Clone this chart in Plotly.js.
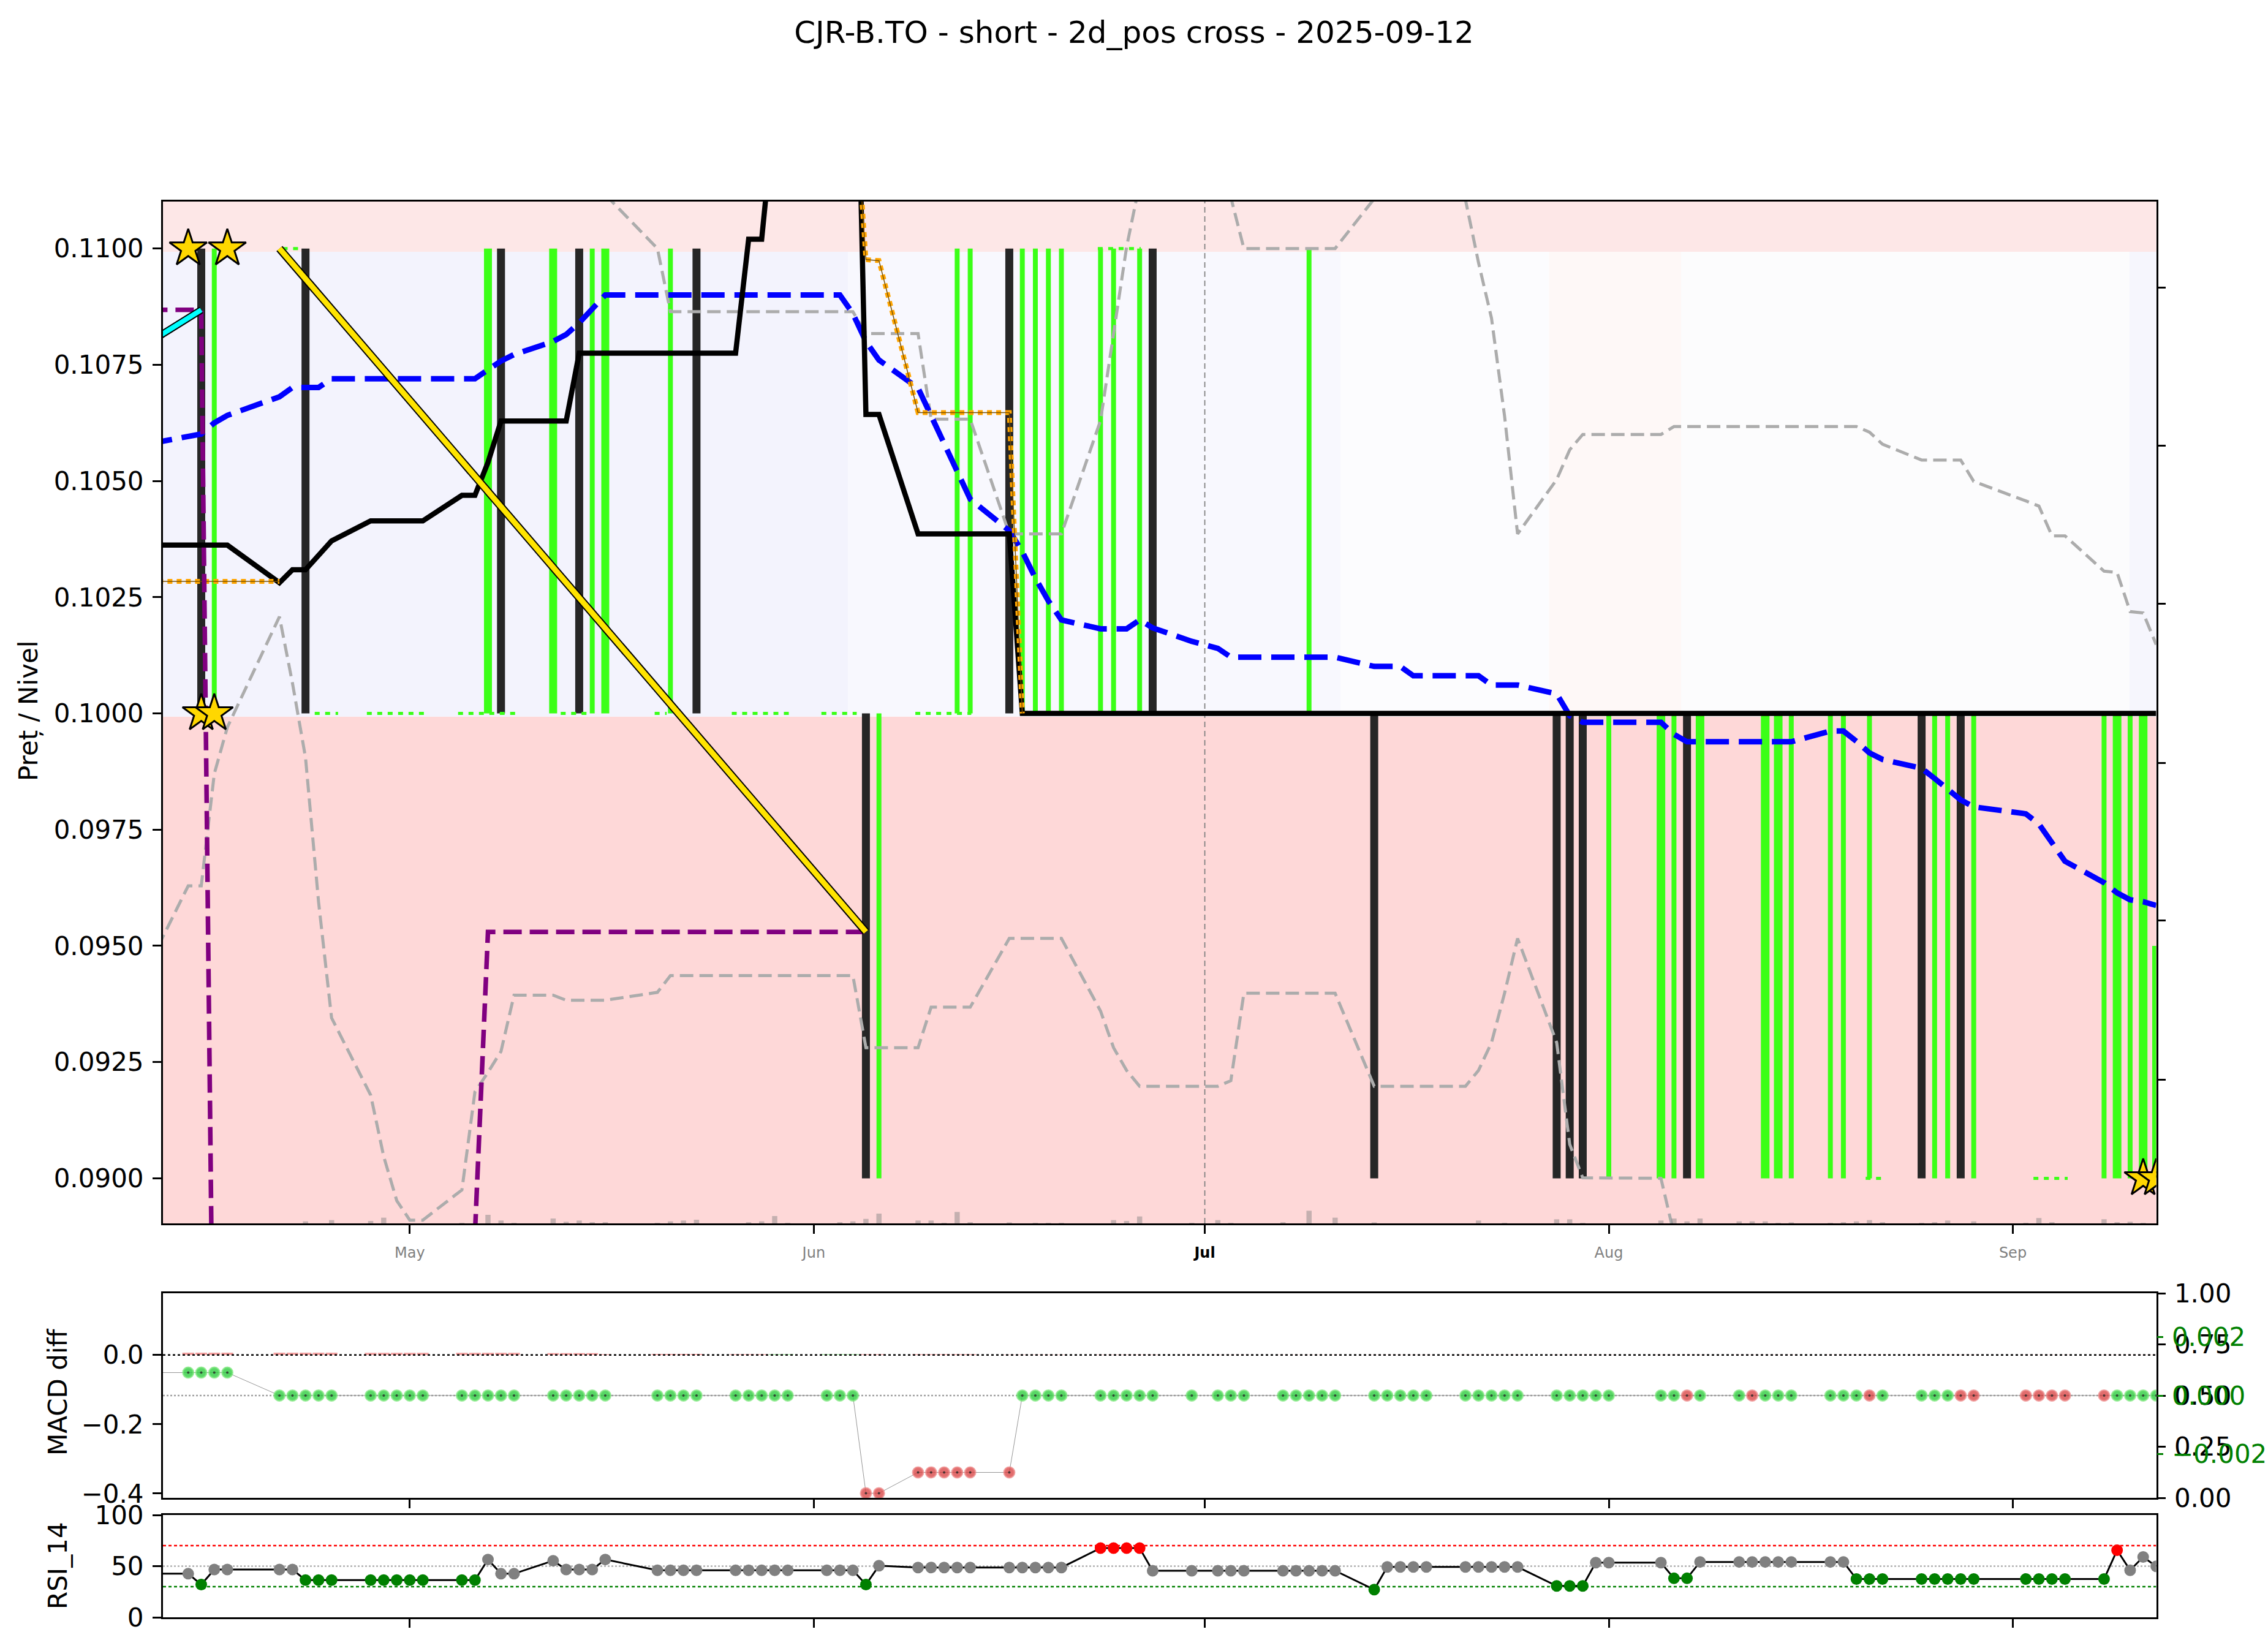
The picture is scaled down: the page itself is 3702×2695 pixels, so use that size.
<!DOCTYPE html>
<html>
<head>
<meta charset="utf-8">
<script src="https://cdn.plot.ly/plotly-3.0.1.min.js"></script>
<style>html,body{margin:0;padding:0;background:#fff;}</style>
</head>
<body>
<div id="chart" style="width:3702px;height:2695px;"></div>
<script>
// ---------------- DATA ----------------
const chartTitle = 'CJR-B.TO - short - 2d_pos cross - 2025-09-12';
const monthTicks = ['2025-05-01','2025-06-01','2025-07-01','2025-08-01','2025-09-01'];
const monthLabels = ['May','Jun','<span style="color:#000"><b>Jul</b></span>','Aug','Sep'];

const tradingDays = [
 '2025-04-14','2025-04-15','2025-04-16','2025-04-17',
 '2025-04-21','2025-04-22','2025-04-23','2025-04-24','2025-04-25',
 '2025-04-28','2025-04-29','2025-04-30','2025-05-01','2025-05-02',
 '2025-05-05','2025-05-06','2025-05-07','2025-05-08','2025-05-09',
 '2025-05-12','2025-05-13','2025-05-14','2025-05-15','2025-05-16',
 '2025-05-20','2025-05-21','2025-05-22','2025-05-23',
 '2025-05-26','2025-05-27','2025-05-28','2025-05-29','2025-05-30',
 '2025-06-02','2025-06-03','2025-06-04','2025-06-05','2025-06-06',
 '2025-06-09','2025-06-10','2025-06-11','2025-06-12','2025-06-13',
 '2025-06-16','2025-06-17','2025-06-18','2025-06-19','2025-06-20',
 '2025-06-23','2025-06-24','2025-06-25','2025-06-26','2025-06-27',
 '2025-06-30','2025-07-02','2025-07-03','2025-07-04',
 '2025-07-07','2025-07-08','2025-07-09','2025-07-10','2025-07-11',
 '2025-07-14','2025-07-15','2025-07-16','2025-07-17','2025-07-18',
 '2025-07-21','2025-07-22','2025-07-23','2025-07-24','2025-07-25',
 '2025-07-28','2025-07-29','2025-07-30','2025-07-31','2025-08-01',
 '2025-08-05','2025-08-06','2025-08-07','2025-08-08',
 '2025-08-11','2025-08-12','2025-08-13','2025-08-14','2025-08-15',
 '2025-08-18','2025-08-19','2025-08-20','2025-08-21','2025-08-22',
 '2025-08-25','2025-08-26','2025-08-27','2025-08-28','2025-08-29',
 '2025-09-02','2025-09-03','2025-09-04','2025-09-05',
 '2025-09-08','2025-09-09','2025-09-10','2025-09-11','2025-09-12'];

// volume (thousand shares) per trading day
const volumeK = [
 0,0,0,0, 0,0,10,0,16, 12,28,0,0,0, 3,0,42,14,3, 24,8,14,6,6, 3,10,14,18, 0,6,10,36,3,
 0,6,10,22,48, 14,14,3,56,6, 5,0,3,3,3, 0,16,12,34,0, 3,16,3,0, 6,0,62,0,28,
 5,0,0,0,0, 0,14,0,3,0, 20,20,3,0,0, 14,24,10,24, 10,10,10,3,5, 3,6,10,16,6,
 3,6,14,0,10, 3,26,6,0, 20,6,8,3,0];

// RSI 14 per trading day
const rsi14 = [
 42.6,32.0,46.7,46.7, 46.7,46.7,36.4,36.4,36.4, 36.4,36.4,36.4,36.4,36.4,
 36.4,36.4,56.5,42.6,42.6, 55.3,46.7,46.7,46.7,56.5, 46.0,46.0,46.0,46.0,
 46.0,46.0,46.0,46.0,46.0, 46.0,46.0,46.0,32.0,50.4, 48.7,48.7,48.7,48.7,48.7,
 48.7,48.7,48.7,48.7,48.7, 67.6,67.6,67.6,67.6,45.5, 45.5,45.5,45.5,45.5,
 45.5,45.5,45.5,45.5,45.5, 27.1,49.2,49.2,49.2,49.2, 49.2,49.2,49.2,49.2,49.2,
 30.7,30.7,30.7,53.4,53.4, 53.4,38.1,38.1,54.1, 54.1,54.1,54.1,54.1,54.1,
 54.1,54.1,37.4,37.4,37.4, 37.4,37.4,37.4,37.4,37.4, 37.4,37.4,37.4,37.4,
 37.4,65.6,46.0,59.0,49.9];
const rsiStartVal = 42.6; // value at left edge (2025-04-11)

// MACD diff per trading day
const macdDiff = [
 -0.051,-0.051,-0.051,-0.051, -0.117,-0.117,-0.117,-0.117,-0.117,
 -0.117,-0.117,-0.117,-0.117,-0.117, -0.117,-0.117,-0.117,-0.117,-0.117,
 -0.117,-0.117,-0.117,-0.117,-0.117, -0.117,-0.117,-0.117,-0.117,
 -0.117,-0.117,-0.117,-0.117,-0.117, -0.117,-0.117,-0.117,-0.399,-0.399,
 -0.339,-0.339,-0.339,-0.339,-0.339, -0.339,-0.117,-0.117,-0.117,-0.117,
 -0.117,-0.117,-0.117,-0.117,-0.117, -0.117,-0.117,-0.117,-0.117,
 -0.117,-0.117,-0.117,-0.117,-0.117, -0.117,-0.117,-0.117,-0.117,-0.117,
 -0.117,-0.117,-0.117,-0.117,-0.117, -0.117,-0.117,-0.117,-0.117,-0.117,
 -0.117,-0.117,-0.117,-0.117, -0.117,-0.117,-0.117,-0.117,-0.117,
 -0.117,-0.117,-0.117,-0.117,-0.117, -0.117,-0.117,-0.117,-0.117,-0.117,
 -0.117,-0.117,-0.117,-0.117, -0.117,-0.117,-0.117,-0.117,-0.117];
const macdSide = [
 'g','g','g','g', 'g','g','g','g','g', 'g','g','g','g','g', 'g','g','g','g','g',
 'g','g','g','g','g', 'g','g','g','g', 'g','g','g','g','g', 'g','g','g','r','r',
 'r','r','r','r','r', 'r','g','g','g','g', 'g','g','g','g','g', 'g','g','g','g',
 'g','g','g','g','g', 'g','g','g','g','g', 'g','g','g','g','g', 'g','g','g','g','g',
 'g','g','r','g', 'g','r','g','g','g', 'g','g','g','r','g', 'g','g','g','r','r',
 'r','r','r','r', 'r','g','g','g','g'];
const macdStartVal = -0.051;
const macdRef = -0.117;
const macdHist = [
 0.0065,0.0065,0.0065,0.0065, 0.0065,0.0065,0.0065,0.0065,0.0065,
 0.006,0.006,0.006,0.006,0.006, 0.006,0.006,0.006,0.006,0.006,
 0.005,0.005,0.005,0.005,0.002, 0.003,0.003,0.003,0.003,
 0.002,0.002,0.002,0.002,0.002, 0.002,0.002,0.002,0.002,0.002,
 0.002,0.002,0.002,0.002,0.002, 0.001,0.001,0.001,0.001,0.001,
 0.001,0.001,0.001,0.001,0.001, 0.0005,0.0005,0.0005,0.0005,
 0.0005,0.0005,0.0005,0.0005,0.0005, 0.0005,0.0005,0.0005,0.0005,0.0005,
 0.0005,0.0005,0.0005,0.0005,0.0005, 0.0005,0.0005,0.0005,0.0005,0.0005,
 0.0005,0.0005,0.0005,0.0005, 0.0005,0.0005,0.0005,0.0005,0.0005,
 0.0005,0.0005,0.0005,0.0005,0.0005, 0.0005,0.0005,0.0005,0.0005,0.0005,
 0.0005,0.0005,0.0005,0.0005, 0.0005,0.0005,0.0005,0.0005,0.0005];
const histSide = [
 'p','p','p','p', 'p','p','p','p','p', 'p','p','p','p','p', 'p','p','p','p','p',
 'p','p','p','p','p', 'p','p','p','p', 'p','p','p','g','g', 'g','g','g','p','p',
 'p','p','p','p','p', 'p','p','p','p','p', 'p','p','p','p','p', 'p','p','p','p',
 'p','p','p','p','p', 'p','p','p','p','p', 'p','p','p','p','p', 'p','p','p','p','p',
 'p','p','p','p', 'p','p','p','p','p', 'p','p','p','p','p', 'p','p','p','p','p',
 'p','p','p','p', 'p','p','p','p','p'];

// Price-panel lines (vertices)
const blueDates = ['2025-04-11','2025-04-14','2025-04-15','2025-04-16','2025-04-17','2025-04-21','2025-04-22','2025-04-24','2025-04-25','2025-05-06','2025-05-07','2025-05-08','2025-05-09','2025-05-12','2025-05-13','2025-05-14','2025-05-15','2025-05-16','2025-06-03','2025-06-04','2025-06-05','2025-06-06','2025-06-09','2025-06-13','2025-06-16','2025-06-17','2025-06-18','2025-06-19','2025-06-20','2025-06-23','2025-06-25','2025-06-26','2025-06-27','2025-06-30','2025-07-02','2025-07-03','2025-07-11','2025-07-14','2025-07-16','2025-07-17','2025-07-22','2025-07-23','2025-07-25','2025-07-28','2025-07-29','2025-07-30','2025-08-05','2025-08-06','2025-08-07','2025-08-15','2025-08-18','2025-08-19','2025-08-20','2025-08-21','2025-08-22','2025-08-25','2025-08-26','2025-08-27','2025-08-28','2025-08-29','2025-09-02','2025-09-03','2025-09-04','2025-09-05','2025-09-08','2025-09-09','2025-09-10','2025-09-11','2025-09-12'];
const blueVals = [0.10580,0.10596,0.10601,0.10625,0.10641,0.10681,0.10701,0.10701,0.10720,0.10720,0.10740,0.10758,0.10772,0.10800,0.10815,0.10840,0.10870,0.10900,0.10900,0.10860,0.10800,0.10760,0.10700,0.10461,0.10393,0.10348,0.10291,0.10242,0.10201,0.10182,0.10182,0.10201,0.10184,0.10155,0.10140,0.10121,0.10121,0.10101,0.10101,0.10081,0.10081,0.10061,0.10061,0.10042,0.09995,0.09981,0.09981,0.09955,0.09939,0.09939,0.09962,0.09962,0.09940,0.09915,0.09901,0.09882,0.09860,0.09837,0.09814,0.09799,0.09784,0.09762,0.09720,0.09682,0.09636,0.09614,0.09599,0.09595,0.09587];

const blackDates = ['2025-04-11','2025-04-17','2025-04-21','2025-04-22','2025-04-23','2025-04-24','2025-04-25','2025-04-28','2025-05-02','2025-05-05','2025-05-06','2025-05-07','2025-05-08','2025-05-13','2025-05-14','2025-05-26','2025-05-27','2025-05-28','2025-05-29','2025-05-30','2025-06-02','2025-06-03','2025-06-04','2025-06-05','2025-06-06','2025-06-09','2025-06-16','2025-06-17','2025-09-12'];
const blackVals = [0.10362,0.10362,0.10281,0.10309,0.10309,0.10340,0.10371,0.10414,0.10414,0.10469,0.10469,0.10540,0.10629,0.10629,0.10775,0.10775,0.11020,0.11020,0.11300,0.11500,0.11700,0.11800,0.11880,0.10643,0.10643,0.10386,0.10386,0.10000,0.10000];

const lowBandDates = ['2025-04-11','2025-04-14','2025-04-15','2025-04-16','2025-04-17','2025-04-21','2025-04-22','2025-04-23','2025-04-24','2025-04-25','2025-04-28','2025-04-29','2025-04-30','2025-05-01','2025-05-02','2025-05-05','2025-05-06','2025-05-07','2025-05-08','2025-05-09','2025-05-12','2025-05-13','2025-05-16','2025-05-20','2025-05-21','2025-06-04','2025-06-05','2025-06-09','2025-06-10','2025-06-13','2025-06-16','2025-06-20','2025-06-23','2025-06-24','2025-06-25','2025-06-26','2025-07-02','2025-07-03','2025-07-04','2025-07-11','2025-07-14','2025-07-21','2025-07-22','2025-07-23','2025-07-24','2025-07-25','2025-07-28','2025-07-29','2025-07-30','2025-08-05','2025-08-06'];
const lowBandVals = [0.09460,0.09629,0.09629,0.09870,0.09970,0.10208,0.10065,0.09905,0.09595,0.09345,0.09179,0.09047,0.08952,0.08910,0.08910,0.08975,0.09186,0.09228,0.09273,0.09394,0.09394,0.09383,0.09383,0.09400,0.09436,0.09436,0.09281,0.09281,0.09368,0.09368,0.09516,0.09516,0.09360,0.09281,0.09232,0.09198,0.09198,0.09210,0.09398,0.09398,0.09198,0.09198,0.09232,0.09292,0.09398,0.09516,0.09292,0.09073,0.09001,0.09000,0.08880];

const upBandDates = ['2025-04-11','2025-05-15','2025-05-16','2025-05-20','2025-05-21','2025-06-04','2025-06-05','2025-06-09','2025-06-10','2025-06-13','2025-06-16','2025-06-20','2025-06-23','2025-06-24','2025-06-25','2025-06-26','2025-07-02','2025-07-03','2025-07-04','2025-07-11','2025-07-14','2025-07-15','2025-07-18','2025-07-21','2025-07-22','2025-07-23','2025-07-24','2025-07-25','2025-07-28','2025-07-29','2025-07-30','2025-08-05','2025-08-06','2025-08-20','2025-08-21','2025-08-22','2025-08-25','2025-08-28','2025-08-29','2025-09-02','2025-09-03','2025-09-04','2025-09-05','2025-09-08','2025-09-09','2025-09-10','2025-09-11','2025-09-12'];
const upBandVals = [0.1200,0.1125,0.11116,0.11000,0.10864,0.10864,0.10817,0.10817,0.10633,0.10633,0.10386,0.10386,0.10630,0.10821,0.11003,0.11140,0.11250,0.11110,0.11000,0.11000,0.11107,0.11250,0.11250,0.11105,0.10970,0.10850,0.10640,0.10386,0.10503,0.10567,0.10600,0.10600,0.10617,0.10617,0.10605,0.10579,0.10545,0.10545,0.10499,0.10457,0.10446,0.10382,0.10382,0.10306,0.10303,0.10219,0.10216,0.10148];

const orangeDates = ['2025-04-11','2025-04-21',null,'2025-06-04','2025-06-05','2025-06-06','2025-06-09','2025-06-16','2025-06-17'];
const orangeVals  = [0.10284,0.10284,null,0.11390,0.10976,0.10974,0.10647,0.10647,0.10000];

const purpleDates = ['2025-04-11','2025-04-15','2025-04-16','2025-05-06','2025-05-07','2025-06-05'];
const purpleVals  = [0.10868,0.10868,0.08320,0.08880,0.09530,0.09530];

const cyanDates = ['2025-04-11','2025-04-15'];
const cyanVals  = [0.10798,0.10868];

const yellowDates = ['2025-04-21','2025-06-05'];
const yellowVals  = [0.11000,0.09530];

const starDates = ['2025-04-14','2025-04-17','2025-04-15','2025-04-16','2025-09-11','2025-09-12'];
const starVals  = [0.1100,0.1100,0.1000,0.1000,0.0900,0.0900];

// signal bars
const levelLow = 0.0900, levelMid = 0.1000, levelHigh = 0.1100, levelShortTop = 0.0950;
const darkUpper = ['2025-04-15','2025-04-23','2025-05-08','2025-05-14','2025-05-23','2025-06-16','2025-06-27'];
const darkLower = ['2025-06-05','2025-07-14','2025-07-28','2025-07-29','2025-07-30','2025-08-07','2025-08-25','2025-08-28'];
const greenUpperThin = ['2025-04-16','2025-05-15','2025-05-21','2025-06-12','2025-06-13','2025-06-17','2025-06-18','2025-06-19','2025-06-20','2025-06-23','2025-06-24','2025-06-26','2025-07-09'];
const greenUpperThick = ['2025-05-07','2025-05-12','2025-05-16'];
const greenLowerThin = ['2025-06-06','2025-08-01','2025-08-06','2025-08-15','2025-08-18','2025-08-19','2025-08-21','2025-08-26','2025-08-27','2025-08-29','2025-09-08','2025-09-10'];
const greenLowerThick = ['2025-08-05','2025-08-08','2025-08-13','2025-08-14','2025-09-09','2025-09-11'];
const greenLowerShort = ['2025-09-12'];

// green dotted level segments
const dotsMid = [['2025-04-23 17:00','2025-04-25 12:00'],['2025-04-27 17:00','2025-05-02 07:00'],['2025-05-04 17:00','2025-05-09 05:00'],['2025-05-12 14:00','2025-05-14 22:00'],['2025-05-19 19:00','2025-05-20 17:00'],['2025-05-25 17:00','2025-05-30 10:00'],['2025-06-01 14:00','2025-06-04 07:00'],['2025-06-08 19:00','2025-06-13 02:00']];
const dotsHigh = [['2025-04-21 06:00','2025-04-22 15:00'],['2025-06-22 19:00','2025-06-26 02:00']];
const dotsLow = [['2025-08-20 17:00','2025-08-22 07:00'],['2025-09-02 14:00','2025-09-05 05:00']];

// background zones
const bandTop = [0.10993, 0.11101], bandBottom = [0.08903, 0.09993];
const stripEdges = ['2025-04-12 00:00','2025-06-03 15:00','2025-07-11 10:00','2025-07-27 10:00','2025-08-06 13:00','2025-09-09 23:00','2025-09-12 12:00'];
const stripColors = ['rgb(243,243,253)','rgb(248,248,254)','rgb(252,252,254)','rgb(254,248,247)','rgb(252,252,253)','rgb(246,246,253)'];

// ---------------- BUILD ----------------
const X0 = '2025-04-12 01:30', X1 = '2025-09-12 00:00';
const Y0 = 0.08903, Y1 = 0.11101;
const FONT = 'DejaVu Sans, Liberation Sans, Arial, sans-serif';

function vbars(dates, lo, hi) {
  const x = [], y = [];
  dates.forEach(d => { x.push(d, d, null); y.push(lo, hi, null); });
  return {x, y};
}
function segs(pairs, level) {
  const x = [], y = [];
  pairs.forEach(p => { x.push(p[0], p[1], null); y.push(level, level, null); });
  return {x, y};
}
function line(x, y, color, width, dash, extra) {
  return Object.assign({type:'scatter', mode:'lines', x, y, line:{color, width, dash: dash || 'solid'}, hoverinfo:'skip', connectgaps:false}, extra || {});
}

const DARK = '#262626', GREEN = '#3bff17';
const traces = [];

// Jul 1 marker line
traces.push(line(['2025-07-01','2025-07-01'], [Y0, Y1], 'rgb(130,130,130)', 1.8, '9px,6px'));

// signal bars
let b;
b = vbars(darkUpper, levelMid, levelHigh); traces.push(line(b.x, b.y, DARK, 13));
b = vbars(darkLower, levelLow, levelMid); traces.push(line(b.x, b.y, DARK, 13));
b = vbars(greenUpperThin, levelMid, levelHigh); traces.push(line(b.x, b.y, GREEN, 8));
b = vbars(greenUpperThick, levelMid, levelHigh); traces.push(line(b.x, b.y, GREEN, 13));
b = vbars(greenLowerThin, levelLow, levelMid); traces.push(line(b.x, b.y, GREEN, 8));
b = vbars(greenLowerThick, levelLow, levelMid); traces.push(line(b.x, b.y, GREEN, 14));
b = vbars(greenLowerShort, levelLow, levelShortTop); traces.push(line(b.x, b.y, GREEN, 13));

// green dotted levels
b = segs(dotsMid, levelMid); traces.push(line(b.x, b.y, GREEN, 5, '8px,9px'));
b = segs(dotsHigh, levelHigh); traces.push(line(b.x, b.y, GREEN, 5, '8px,9px'));
b = segs(dotsLow, levelLow); traces.push(line(b.x, b.y, GREEN, 5, '8px,9px'));

// bands
traces.push(line(upBandDates, upBandVals, 'rgb(172,172,172)', 5, '22px,10px'));
traces.push(line(lowBandDates, lowBandVals, 'rgb(172,172,172)', 5, '22px,10px'));

// blue dashed
traces.push(line(blueDates, blueVals, '#0000ff', 9, '38px,16px'));
// black
traces.push(line(blackDates, blackVals, '#000000', 8.5));
// orange dotted + thin line
traces.push(line(orangeDates, orangeVals, '#ffa500', 8, '8px,7px'));
traces.push(line(orangeDates, orangeVals, 'rgb(120,80,0)', 1.5));
// purple dashed
traces.push(line(purpleDates, purpleVals, '#800080', 7.5, '30px,13px'));
// cyan with outline
traces.push(line(cyanDates, cyanVals, '#000000', 12));
traces.push(line(cyanDates, cyanVals, '#00ffff', 8));
// yellow with outline
traces.push(line(yellowDates, yellowVals, '#000000', 13));
traces.push(line(yellowDates, yellowVals, '#ffe400', 9));
// stars
traces.push({type:'scatter', mode:'markers', x:starDates, y:starVals, hoverinfo:'skip',
  marker:{symbol:'star', size:46, color:'#ffd700', line:{color:'#000', width:3}}});

// volume on twin axis
traces.push({type:'bar', x:tradingDays, y:volumeK, yaxis:'y2', xaxis:'x', width:34560000,
  marker:{color:'rgba(128,128,128,0.45)', line:{width:0}}, hoverinfo:'skip'});

// ---- MACD panel ----
traces.push({type:'bar', x:tradingDays, y:macdHist, xaxis:'x2', yaxis:'y3', width:77760000, hoverinfo:'skip',
  marker:{color: histSide.map(s => s === 'g' ? 'rgba(60,200,60,0.55)' : 'rgba(240,120,120,0.7)'), line:{width:0}}});
traces.push(line([X0, X1], [0, 0], '#000', 2.5, '4px,4px', {xaxis:'x2', yaxis:'y3'}));
traces.push(line([X0, X1], [macdRef, macdRef], 'rgb(160,160,160)', 2.5, '3px,3px', {xaxis:'x2', yaxis:'y3'}));
traces.push({type:'scatter', mode:'lines', x:['2025-04-11'].concat(tradingDays), y:[macdStartVal].concat(macdDiff),
  xaxis:'x2', yaxis:'y3', line:{color:'rgb(150,150,150)', width:1}, hoverinfo:'skip'});
traces.push({type:'scatter', mode:'markers', x:tradingDays, y:macdDiff, xaxis:'x2', yaxis:'y3', hoverinfo:'skip',
  marker:{size:17, color: macdSide.map(s => s === 'g' ? 'rgba(46,204,64,0.8)' : 'rgba(215,60,60,0.75)'),
    line:{color: macdSide.map(s => s === 'g' ? 'rgba(120,230,120,0.7)' : 'rgba(235,130,130,0.7)'), width:3}}});
traces.push({type:'scatter', mode:'markers', x:tradingDays, y:macdDiff, xaxis:'x2', yaxis:'y3', hoverinfo:'skip',
  marker:{size:4, color:'rgba(40,40,40,0.8)'}});
// dummy traces to register the right-hand twin axes
traces.push({type:'scatter', mode:'markers', x:[X0], y:[0.5], xaxis:'x2', yaxis:'y4', marker:{opacity:0}, hoverinfo:'skip'});
traces.push({type:'scatter', mode:'markers', x:[X0], y:[0], xaxis:'x2', yaxis:'y5', marker:{opacity:0}, hoverinfo:'skip'});

// ---- RSI panel ----
traces.push(line([X0, X1], [70, 70], '#ff0000', 2.5, '5px,4px', {xaxis:'x3', yaxis:'y6'}));
traces.push(line([X0, X1], [50, 50], 'rgb(160,160,160)', 2, '3px,3px', {xaxis:'x3', yaxis:'y6'}));
traces.push(line([X0, X1], [30, 30], '#008000', 2.5, '5px,4px', {xaxis:'x3', yaxis:'y6'}));
traces.push({type:'scatter', mode:'lines', x:['2025-04-11'].concat(tradingDays), y:[rsiStartVal].concat(rsi14),
  xaxis:'x3', yaxis:'y6', line:{color:'#000', width:3}, hoverinfo:'skip'});
traces.push({type:'scatter', mode:'markers', x:tradingDays, y:rsi14, xaxis:'x3', yaxis:'y6', hoverinfo:'skip',
  marker:{size:19, color: rsi14.map(v => v <= 40 ? '#008000' : (v >= 60 ? '#ff0000' : '#808080'))}});

// ---------------- LAYOUT ----------------
const W = 3702, H = 2695;
const xDom = [266 / W, 3519.5 / W];
const frame = {showline:true, mirror:true, linecolor:'#000', linewidth:3, showgrid:false, zeroline:false};
const tk = {ticks:'outside', ticklen:14, tickwidth:3, tickcolor:'#000'};

const shapes = [];
shapes.push({type:'rect', xref:'x', yref:'y', x0:stripEdges[0], x1:stripEdges[stripEdges.length-1], y0:bandTop[0], y1:bandTop[1]+0.001, fillcolor:'rgb(253,231,231)', line:{width:0}, layer:'below'});
shapes.push({type:'rect', xref:'x', yref:'y', x0:stripEdges[0], x1:stripEdges[stripEdges.length-1], y0:bandBottom[0]-0.001, y1:bandBottom[1], fillcolor:'rgb(254,216,216)', line:{width:0}, layer:'below'});
for (let i = 0; i < stripColors.length; i++) {
  shapes.push({type:'rect', xref:'x', yref:'y', x0:stripEdges[i], x1:stripEdges[i+1], y0:bandBottom[1], y1:bandTop[0], fillcolor:stripColors[i], line:{width:0}, layer:'below'});
}

const volTicks = [704, 1481, 2254, 3031, 3804, 4580];

const layout = {
  width: W, height: H,
  margin:{l:0, r:0, t:0, b:0},
  paper_bgcolor:'#ffffff', plot_bgcolor:'#ffffff',
  showlegend:false, hovermode:false,
  font:{family:FONT, size:42, color:'#000'},
  title:{text:chartTitle, x:0.5, xanchor:'center', xref:'paper', y:1 - 52 / H, yanchor:'middle', font:{family:FONT, size:50, color:'#000'}},
  shapes,
  xaxis: Object.assign({domain:xDom, anchor:'y', type:'date', range:[X0, X1], tickmode:'array', tickvals:monthTicks, ticktext:monthLabels,
    tickfont:{family:FONT, size:24, color:'#808080'}, ticklabelstandoff:10}, frame, tk),
  yaxis: Object.assign({domain:[1 - 1997 / H, 1 - 329 / H], anchor:'x', range:[Y0, Y1], tickmode:'array',
    tickvals:[0.09, 0.0925, 0.095, 0.0975, 0.1, 0.1025, 0.105, 0.1075, 0.11], tickformat:'.4f',
    tickfont:{family:FONT, size:42, color:'#000'}, ticklabelstandoff:6}, frame, tk),
  yaxis2: Object.assign({overlaying:'y', side:'right', anchor:'x', range:[0, 5000], tickmode:'array', tickvals:volTicks,
    showticklabels:false, showgrid:false, zeroline:false, showline:false}, tk),
  xaxis2: Object.assign({domain:xDom, anchor:'y3', type:'date', range:[X0, X1], tickmode:'array', tickvals:monthTicks, showticklabels:false}, frame, tk),
  yaxis3: Object.assign({domain:[1 - 2445 / H, 1 - 2111 / H], anchor:'x2', range:[-0.4124, 0.178], tickmode:'array',
    tickvals:[-0.4, -0.2, 0], tickformat:'.1f', tickfont:{family:FONT, size:42, color:'#000'}, ticklabelstandoff:6}, frame, tk),
  yaxis4: Object.assign({overlaying:'y3', side:'right', anchor:'x2', range:[0, 1], tickmode:'array', tickvals:[0, 0.25, 0.5, 0.75, 1],
    tickformat:'.2f', tickfont:{family:FONT, size:42, color:'#000'}, showgrid:false, zeroline:false, showline:false, ticklabelstandoff:6}, tk),
  yaxis5: Object.assign({overlaying:'y3', side:'right', anchor:'x2', range:[-0.0035, 0.0035], tickmode:'array', tickvals:[-0.002, 0, 0.002],
    tickformat:'.3f', tickfont:{family:FONT, size:42, color:'#008000'}, showgrid:false, zeroline:false, showline:false, ticklabelstandoff:6},
    {ticks:'outside', ticklen:10, tickwidth:3, tickcolor:'#008000'}),
  xaxis3: Object.assign({domain:xDom, anchor:'y6', type:'date', range:[X0, X1], tickmode:'array', tickvals:monthTicks, showticklabels:false}, frame, tk),
  yaxis6: Object.assign({domain:[1 - 2640 / H, 1 - 2473 / H], anchor:'x3', range:[0, 100], tickmode:'array', tickvals:[0, 50, 100],
    tickfont:{family:FONT, size:42, color:'#000'}, ticklabelstandoff:6}, frame, tk),
  annotations:[
    {text:'Preț / Nivel', xref:'paper', yref:'paper', x:47 / W, y:1 - 1160 / H, textangle:-90, showarrow:false, xanchor:'center', yanchor:'middle', font:{family:FONT, size:42, color:'#000'}},
    {text:'MACD diff', xref:'paper', yref:'paper', x:94 / W, y:1 - 2272 / H, textangle:-90, showarrow:false, xanchor:'center', yanchor:'middle', font:{family:FONT, size:42, color:'#000'}},
    {text:'RSI_14', xref:'paper', yref:'paper', x:94 / W, y:1 - 2556 / H, textangle:-90, showarrow:false, xanchor:'center', yanchor:'middle', font:{family:FONT, size:42, color:'#000'}}
  ]
};

Plotly.newPlot('chart', traces, layout, {staticPlot:true, displayModeBar:false});
</script>
</body>
</html>
